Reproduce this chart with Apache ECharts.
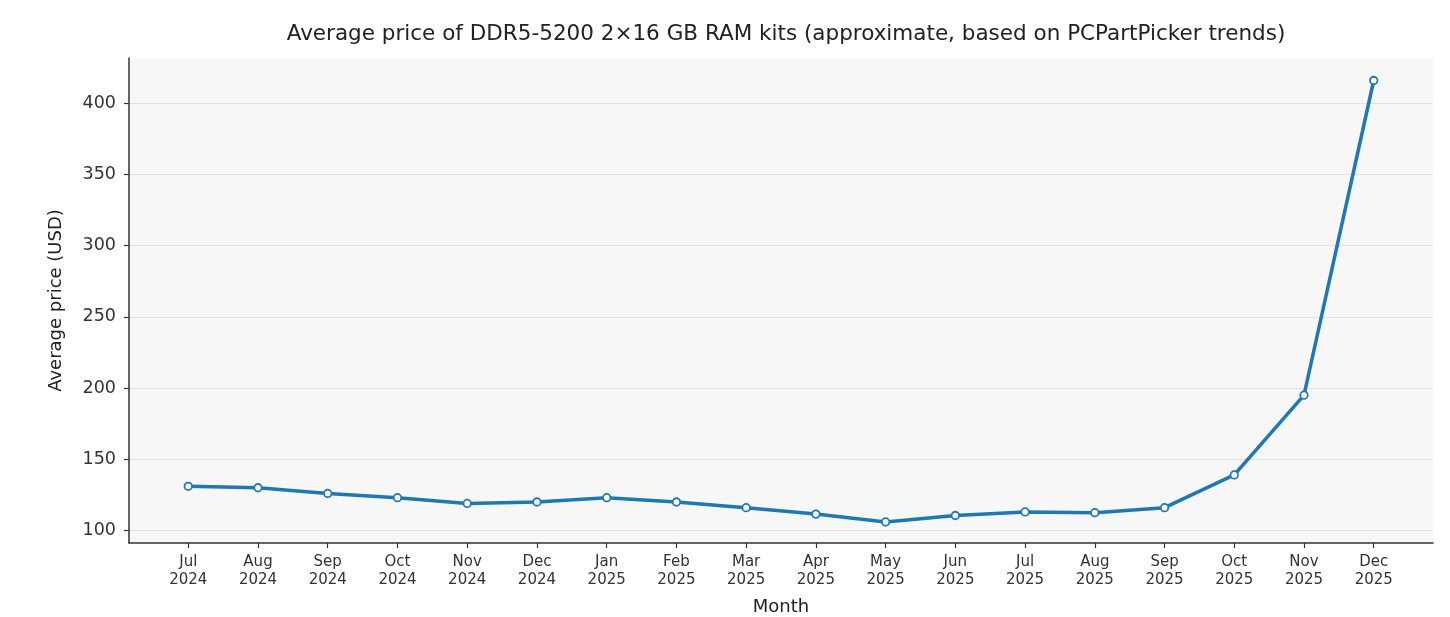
<!DOCTYPE html>
<html>
<head>
<meta charset="utf-8">
<script src="https://cdn.jsdelivr.net/npm/echarts@6/dist/echarts.min.js"></script>
<style>
  html, body { margin: 0; padding: 0; background: #ffffff; }
  #chart { width: 1450px; height: 617px; }
</style>
</head>
<body>
<div id="chart"></div>
<script>
// Monthly labels (month / year on two lines)
const months = ['Jul', 'Aug', 'Sep', 'Oct', 'Nov', 'Dec', 'Jan', 'Feb', 'Mar',
                'Apr', 'May', 'Jun', 'Jul', 'Aug', 'Sep', 'Oct', 'Nov', 'Dec'];
const years = ['2024', '2024', '2024', '2024', '2024', '2024', '2025', '2025', '2025',
               '2025', '2025', '2025', '2025', '2025', '2025', '2025', '2025', '2025'];

// Average price in USD per month
const prices = [131, 130, 126, 123, 119, 120, 123, 120, 116, 111.5, 106,
                110.5, 113, 112.5, 116, 139, 195, 416];

// Y axis tick values
const yTicks = [100, 150, 200, 250, 300, 350, 400];

const xTicks = months.map((_, i) => i);
const lineData = prices.map((v, i) => [i, v]);

const font = 'DejaVu Sans';
const chart = echarts.init(document.getElementById('chart'), null, { renderer: 'canvas' });

chart.setOption({
  backgroundColor: '#ffffff',
  animation: false,
  title: {
    text: 'Average price of DDR5-5200 2×16 GB RAM kits (approximate, based on PCPartPicker trends)',
    left: 781,
    top: 18,
    textAlign: 'center',
    textStyle: { fontFamily: font, fontSize: 21.5, fontWeight: 'normal', color: '#222' }
  },
  grid: {
    left: 129, right: 17, top: 58, bottom: 74,
    outerBoundsMode: 'none',
    containLabel: false,
    show: true, backgroundColor: '#f7f7f7', borderWidth: 0
  },
  xAxis: {
    type: 'value',
    min: -0.85,
    max: 17.85,
    name: 'Month',
    nameLocation: 'middle',
    nameGap: 55,
    nameTextStyle: { fontFamily: font, fontSize: 18, color: '#222' },
    axisLine: { show: true, onZero: false, lineStyle: { color: '#333', width: 1.5 } },
    axisTick: { show: true, length: 5, customValues: xTicks, lineStyle: { color: '#333', width: 1.2 } },
    axisLabel: {
      customValues: xTicks,
      margin: 10,
      fontFamily: font, fontSize: 15, lineHeight: 18, color: '#333',
      formatter: v => months[Math.round(v)] + '\n' + years[Math.round(v)]
    },
    splitLine: { show: false }
  },
  yAxis: {
    type: 'value',
    min: 91.2,
    max: 431.8,
    name: 'Average price (USD)',
    nameLocation: 'middle',
    nameGap: 64,
    nameTextStyle: { fontFamily: font, fontSize: 18, color: '#222' },
    axisLine: { show: true, onZero: false, lineStyle: { color: '#333', width: 1.5 } },
    axisTick: { show: true, length: 5, customValues: yTicks, lineStyle: { color: '#333', width: 1.2 } },
    axisLabel: {
      customValues: yTicks,
      margin: 13,
      fontFamily: font, fontSize: 17.5, color: '#333'
    },
    splitLine: { show: true, lineStyle: { color: '#e2e2e2', width: 1.2 } }
  },
  series: [{
    type: 'line',
    data: lineData,
    symbol: 'circle',
    symbolSize: 7.5,
    showSymbol: true,
    lineStyle: { color: '#1f77b4', width: 3.5 },
    itemStyle: { color: '#ffffff', borderColor: '#1f77b4', borderWidth: 1.8 },
    z: 3
  }]
});
</script>
</body>
</html>
